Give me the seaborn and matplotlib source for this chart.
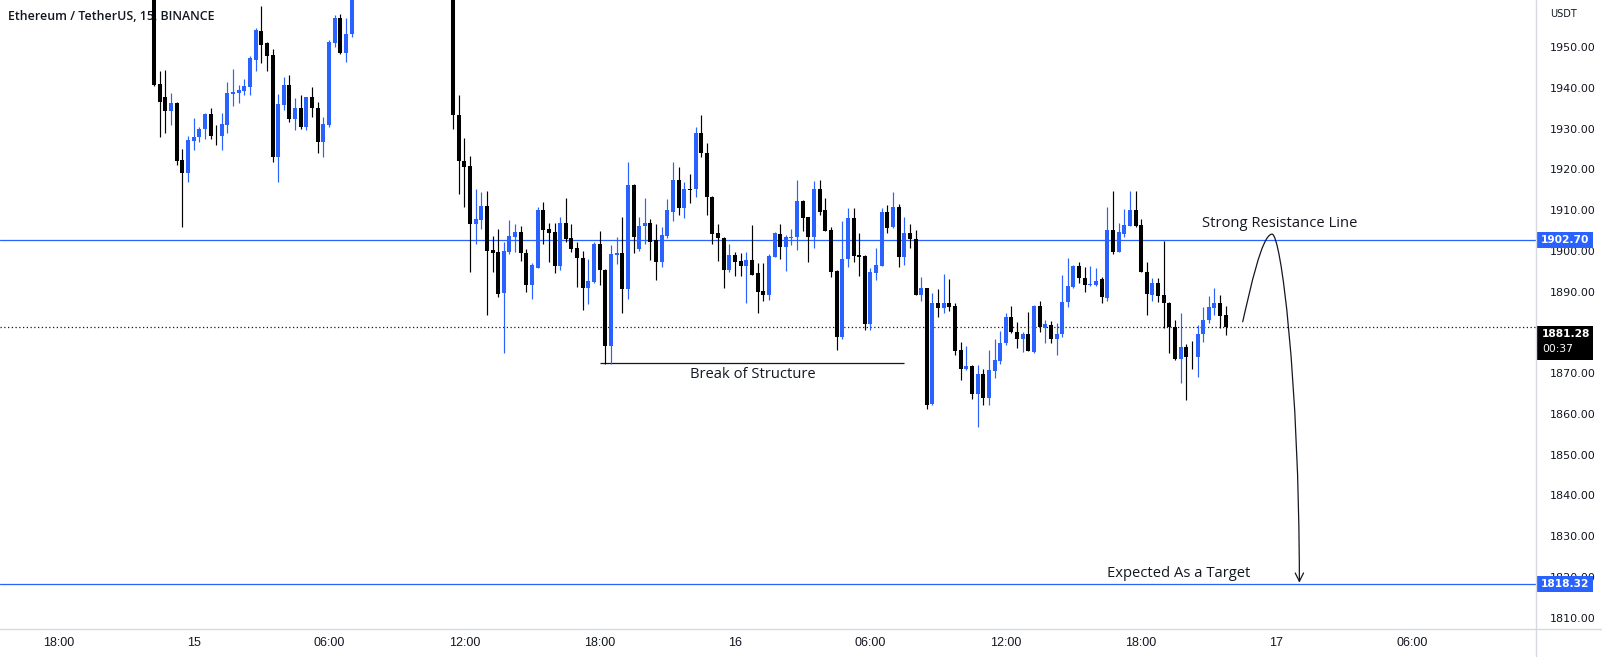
import numpy as np
import pandas as pd
import matplotlib
matplotlib.use("Agg")
import matplotlib.pyplot as plt
import matplotlib.transforms as mtransforms
from matplotlib.path import Path
from matplotlib.patches import FancyArrowPatch, Rectangle
from matplotlib.lines import Line2D
import seaborn as sns

sns.set_theme(style="white")
plt.rcParams["font.family"] = ["DejaVu Sans"]

# ---------------- data: ETH/USDT 15m candles ----------------
axis_origin = "2023-07-14 18:00"

seg1_start = "2023-07-14 22:15"
opens1 = [1963.5, 1940.9, 1937.8, 1934.4, 1936.2, 1922.3, 1919.0, 1927.0, 1927.9, 1929.8,
          1933.6, 1928.4, 1928.2, 1930.9, 1938.5, 1938.6, 1939.3, 1940.3, 1946.8, 1953.9,
          1950.9, 1948.0, 1923.1, 1935.8, 1940.7, 1932.3, 1935.0, 1930.3, 1937.7, 1935.0,
          1926.8, 1930.9, 1951.1, 1957.0, 1948.6, 1953.3]
highs1 = [1966.0, 1944.2, 1944.4, 1938.6, 1936.4, 1925.1, 1928.2, 1932.5, 1930.5, 1933.9,
          1935.0, 1930.9, 1933.7, 1941.3, 1944.5, 1940.7, 1942.1, 1947.8, 1954.6, 1960.1,
          1951.3, 1949.4, 1938.5, 1942.6, 1943.1, 1937.4, 1938.2, 1937.8, 1940.1, 1936.6,
          1932.9, 1951.7, 1957.8, 1958.1, 1957.0, 1966.0]
lows1 = [1940.5, 1928.0, 1929.0, 1930.9, 1921.1, 1905.9, 1917.0, 1924.7, 1926.8, 1927.4,
         1927.4, 1926.0, 1924.7, 1928.8, 1935.5, 1936.2, 1938.2, 1938.2, 1944.0, 1946.0,
         1944.0, 1921.9, 1917.0, 1934.5, 1931.7, 1929.6, 1930.0, 1929.6, 1932.9, 1923.9,
         1922.9, 1930.5, 1950.1, 1948.3, 1946.2, 1952.4]
closes1 = [1940.7, 1936.6, 1934.4, 1936.2, 1922.1, 1919.0, 1927.2, 1928.0, 1929.8, 1933.6,
           1928.2, 1928.3, 1931.1, 1938.6, 1939.0, 1939.5, 1940.4, 1947.2, 1954.2, 1950.5,
           1947.8, 1923.1, 1936.0, 1940.7, 1932.3, 1935.0, 1930.3, 1937.7, 1935.0, 1926.8,
           1931.1, 1951.3, 1957.0, 1948.6, 1953.3, 1964.0]

seg2_start = "2023-07-15 11:30"
opens2 = [1963.5, 1933.3, 1922.1, 1920.8, 1906.7, 1907.6, 1911.0, 1900.2, 1899.8, 1889.6,
          1899.8, 1903.5, 1904.7, 1899.5, 1891.6, 1895.9, 1909.9, 1905.3, 1904.7, 1896.3,
          1906.9, 1903.1, 1900.6, 1898.2, 1891.0, 1892.4, 1901.7, 1895.3, 1876.6, 1899.0,
          1899.5, 1890.6, 1916.1, 1900.4, 1906.0, 1906.8, 1902.7, 1897.3, 1903.6, 1909.6,
          1917.5, 1910.4, 1915.1, 1915.1, 1929.0, 1924.1, 1913.3, 1904.5, 1903.1, 1895.3,
          1899.0, 1897.6, 1896.3, 1897.8, 1894.5, 1890.2, 1889.2, 1898.6, 1904.1, 1901.0,
          1903.1, 1903.3, 1912.3, 1908.2, 1903.3, 1915.1, 1909.9, 1905.1, 1895.1, 1878.8,
          1897.9, 1908.0, 1899.0, 1898.7, 1882.1, 1894.6, 1896.3, 1909.6, 1905.8, 1910.7,
          1898.4, 1904.3, 1902.8, 1889.2, 1890.8, 1862.4, 1887.1, 1885.9, 1887.3, 1886.5,
          1875.7, 1870.9, 1871.7, 1865.0, 1869.8, 1863.8, 1870.6, 1873.1, 1877.3, 1883.7,
          1880.2, 1878.3, 1879.6, 1875.3, 1886.5, 1881.0, 1881.8, 1878.3, 1879.6, 1887.5,
          1891.2, 1896.3, 1893.3, 1891.6, 1891.6, 1893.0, 1888.4, 1905.1, 1899.8, 1904.1,
          1906.1, 1909.9, 1906.3, 1894.9, 1889.2, 1892.2, 1889.2, 1887.1, 1881.4, 1873.4,
          1876.3, 1874.0, 1873.9, 1879.6, 1883.0, 1886.1, 1887.3, 1884.3]
highs2 = [1966.0, 1938.2, 1927.6, 1923.3, 1915.1, 1914.5, 1914.8, 1903.6, 1905.3, 1902.2,
          1907.6, 1906.6, 1906.1, 1900.4, 1897.1, 1910.7, 1912.1, 1906.9, 1906.9, 1908.4,
          1912.9, 1906.6, 1902.2, 1900.0, 1897.9, 1902.2, 1904.9, 1895.5, 1901.4, 1903.3,
          1908.2, 1921.9, 1916.4, 1908.4, 1912.9, 1907.7, 1906.6, 1905.9, 1912.6, 1921.9,
          1920.5, 1917.0, 1918.8, 1930.5, 1933.3, 1926.5, 1913.5, 1906.7, 1903.3, 1901.7,
          1899.8, 1899.4, 1899.8, 1906.3, 1897.1, 1897.1, 1899.2, 1904.7, 1906.6, 1903.9,
          1905.3, 1917.4, 1912.5, 1908.4, 1917.2, 1917.5, 1912.9, 1905.9, 1895.3, 1907.4,
          1910.4, 1910.4, 1904.3, 1898.9, 1895.7, 1900.6, 1910.4, 1911.2, 1914.5, 1911.5,
          1908.4, 1906.6, 1905.0, 1893.5, 1891.0, 1889.7, 1890.6, 1894.3, 1893.0, 1887.3,
          1877.7, 1876.7, 1871.9, 1872.0, 1870.9, 1875.7, 1878.5, 1880.4, 1884.7, 1886.5,
          1882.6, 1880.2, 1885.1, 1886.6, 1887.8, 1883.0, 1882.9, 1882.4, 1894.1, 1898.2,
          1896.5, 1897.3, 1896.1, 1896.3, 1895.7, 1893.5, 1910.8, 1914.8, 1906.9, 1910.2,
          1914.8, 1914.8, 1907.7, 1897.3, 1893.3, 1893.3, 1902.5, 1887.5, 1883.0, 1884.8,
          1877.1, 1878.0, 1881.8, 1886.3, 1888.9, 1890.8, 1889.2, 1886.5]
lows2 = [1930.0, 1913.9, 1910.8, 1894.9, 1901.8, 1905.3, 1884.3, 1894.9, 1888.6, 1875.0,
         1899.2, 1899.8, 1897.6, 1890.0, 1888.1, 1895.7, 1901.7, 1897.3, 1894.6, 1895.3,
         1902.2, 1899.8, 1891.2, 1885.6, 1887.0, 1892.2, 1891.6, 1872.2, 1872.2, 1896.8,
         1884.8, 1888.1, 1899.4, 1900.0, 1901.8, 1897.8, 1892.8, 1896.1, 1903.1, 1907.2,
         1908.8, 1908.0, 1911.8, 1913.1, 1923.1, 1908.8, 1901.7, 1897.6, 1891.0, 1894.9,
         1893.8, 1893.8, 1887.3, 1894.0, 1884.8, 1887.8, 1887.9, 1898.5, 1897.9, 1895.1,
         1901.4, 1900.2, 1904.9, 1897.3, 1900.6, 1908.8, 1904.8, 1893.7, 1875.7, 1878.3,
         1896.0, 1897.3, 1893.8, 1880.6, 1880.6, 1892.8, 1896.2, 1904.5, 1905.6, 1896.1,
         1896.5, 1900.6, 1889.1, 1887.8, 1861.1, 1862.3, 1883.7, 1884.8, 1885.3, 1874.4,
         1868.3, 1870.8, 1863.6, 1856.9, 1862.2, 1862.2, 1868.7, 1872.2, 1876.9, 1879.8,
         1876.1, 1875.3, 1875.4, 1875.0, 1880.2, 1877.3, 1877.5, 1874.4, 1878.8, 1886.3,
         1891.0, 1892.0, 1890.0, 1891.4, 1891.4, 1887.1, 1887.8, 1899.2, 1899.7, 1903.5,
         1906.0, 1905.8, 1894.8, 1884.3, 1887.8, 1887.5, 1881.0, 1875.0, 1873.3, 1867.5,
         1863.4, 1870.9, 1869.1, 1877.7, 1882.4, 1884.3, 1881.2, 1879.4]
closes2 = [1933.3, 1922.1, 1920.6, 1906.7, 1907.7, 1911.0, 1900.0, 1899.5, 1889.4, 1900.0,
           1903.6, 1904.7, 1899.4, 1891.6, 1896.5, 1909.9, 1905.1, 1904.5, 1896.3, 1906.9,
           1902.8, 1900.4, 1898.2, 1891.0, 1892.7, 1901.7, 1895.3, 1876.6, 1899.2, 1899.5,
           1890.6, 1916.1, 1903.5, 1906.0, 1906.8, 1902.2, 1897.3, 1903.9, 1909.9, 1917.5,
           1910.4, 1915.1, 1914.9, 1929.0, 1923.9, 1913.1, 1904.1, 1903.1, 1895.3, 1899.0,
           1897.3, 1896.3, 1897.8, 1894.1, 1890.0, 1889.2, 1898.7, 1904.3, 1900.9, 1903.3,
           1903.5, 1912.3, 1908.0, 1903.3, 1915.1, 1909.6, 1904.9, 1894.9, 1878.9, 1897.9,
           1908.0, 1898.7, 1898.6, 1882.1, 1894.9, 1896.5, 1909.6, 1905.7, 1910.8, 1898.4,
           1904.3, 1902.8, 1889.2, 1890.8, 1862.2, 1887.1, 1885.9, 1887.3, 1886.3, 1875.5,
           1870.9, 1871.7, 1865.0, 1869.8, 1863.8, 1870.8, 1873.2, 1877.5, 1883.7, 1880.2,
           1878.3, 1879.6, 1875.5, 1886.5, 1881.4, 1882.1, 1878.3, 1879.6, 1887.5, 1891.4,
           1896.3, 1893.3, 1891.6, 1891.9, 1892.7, 1888.6, 1905.1, 1899.8, 1904.7, 1906.3,
           1909.9, 1906.1, 1894.9, 1889.4, 1892.2, 1888.9, 1887.1, 1881.4, 1873.4, 1876.3,
           1873.9, 1873.9, 1879.6, 1883.0, 1886.3, 1887.3, 1884.0, 1881.28]

resistance_level = 1902.70
target_level = 1818.32
last_price = 1881.28
countdown = "00:37"
structure_level = 1872.5
# 1880.00 sits fully behind the last-price box in the reference
price_ticks = [v for v in range(1810, 1951, 10) if v != 1880]

BLUE = "#2962FF"
BLACK = "#000000"
TEXT = "#131722"

# ---------------- build candle frame ----------------
bar = pd.Timedelta("15min")
origin = pd.Timestamp(axis_origin)
frames = []
for start, o, h, l, c in [(seg1_start, opens1, highs1, lows1, closes1),
                          (seg2_start, opens2, highs2, lows2, closes2)]:
    t = pd.date_range(start, periods=len(o), freq="15min")
    frames.append(pd.DataFrame({"time": t, "open": o, "high": h, "low": l, "close": c}))
df = pd.concat(frames, ignore_index=True)
df["x"] = (df["time"] - origin) / bar
df["dir"] = np.where(df["close"] >= df["open"], "up", "down")
df["cid"] = np.arange(len(df))

wicks = pd.concat([df[["cid", "x", "dir"]].assign(price=df["low"]),
                   df[["cid", "x", "dir"]].assign(price=df["high"])]).sort_values(["cid"], kind="stable")
bodies = pd.concat([df[["cid", "x", "dir"]].assign(price=df["open"]),
                    df[["cid", "x", "dir"]].assign(price=df["close"])]).sort_values(["cid"], kind="stable")

# ---------------- figure ----------------
W, H = 1602, 657
fig = plt.figure(figsize=(W / 100, H / 100), dpi=100)
fig.patch.set_facecolor("white")
ax_right_px, ax_bottom_px = 1536, 628.5
ax = fig.add_axes([0, (H - ax_bottom_px) / H, ax_right_px / W, ax_bottom_px / H])
ax.set_facecolor("white")

pal = {"up": BLUE, "down": BLACK}
sns.lineplot(data=wicks, x="x", y="price", units="cid", estimator=None, hue="dir",
             palette=pal, linewidth=0.85, legend=False, sort=False, ax=ax,
             solid_capstyle="butt", zorder=3)
sns.lineplot(data=bodies, x="x", y="price", units="cid", estimator=None, hue="dir",
             palette=pal, linewidth=2.9, legend=False, sort=False, ax=ax,
             solid_capstyle="butt", zorder=3)

ax.set_xlim(-10.32, 262.0)
ax.set_ylim(1807.37, 1961.53)
ax.set_xlabel("")
ax.set_ylabel("")
for s in ax.spines.values():
    s.set_visible(False)
ax.grid(False)

# y ticks on right
ax.yaxis.tick_right()
ax.set_yticks(price_ticks)
ax.set_yticklabels([f"{v:.2f}" for v in price_ticks])
ax.tick_params(axis="y", length=0, pad=10, labelsize=8, labelcolor=TEXT)

# x ticks
tick_times = pd.date_range(origin, periods=11, freq="6h")
ax.set_xticks([(t - origin) / bar for t in tick_times])
ax.set_xticklabels([str(t.day) if t.hour == 0 else t.strftime("%H:%M") for t in tick_times])
ax.tick_params(axis="x", length=0, pad=6, labelsize=8, labelcolor=TEXT)
for lbl in ax.get_xticklabels():
    lbl.set_family(["Liberation Sans Narrow", "Liberation Sans", "DejaVu Sans"])
    lbl.set_fontsize(9)

# horizontal levels
ax.axhline(resistance_level, color=BLUE, lw=0.9, zorder=2)
ax.axhline(target_level, color=BLUE, lw=0.9, zorder=2)
ax.axhline(last_price, color=TEXT, lw=0.9, ls=(0, (1, 2)), zorder=2)
ax.hlines(structure_level, 96, 150, color=TEXT, lw=0.9, zorder=2)

# annotations
ann_font = dict(family=["Open Sans", "DejaVu Sans"], fontsize=10.6, color=TEXT)
ax.text(216.6, 1906.6, "Strong Resistance Line", ha="center", va="center", **ann_font)
ax.text(123.2, 1869.7, "Break of Structure", ha="center", va="center", **ann_font)
ax.text(198.7, 1820.9, "Expected As a Target", ha="center", va="center", **ann_font)

# projected path arrow
verts = [(210.0, 1882.6), (211.3, 1890.4), (213.4, 1904.1), (215.2, 1904.1),
         (216.8, 1904.1), (220.0, 1868.3), (220.05, 1818.6)]
codes = [Path.MOVETO, Path.CURVE4, Path.CURVE4, Path.CURVE4, Path.CURVE4, Path.CURVE4, Path.CURVE4]
arrow = FancyArrowPatch(path=Path(verts, codes), arrowstyle="->,head_length=0.5,head_width=0.25",
                        mutation_scale=12, color=TEXT, lw=0.9, zorder=4)
ax.add_patch(arrow)

# title
ax.text(8 / ax_right_px, 1 - 16 / ax_bottom_px, "Ethereum / TetherUS, 15, BINANCE",
        transform=ax.transAxes, ha="left", va="center", fontsize=8.9,
        family=["Open Sans", "DejaVu Sans"], fontweight="semibold", color=TEXT, zorder=1)

# price-scale boxes
trans = mtransforms.blended_transform_factory(ax.transAxes, ax.transData)
px_per_unit = ax_bottom_px / (1961.53 - 1807.37)
box_w = 56 / ax_right_px
for lvl, lab in [(resistance_level, f"{resistance_level:.2f}"), (target_level, f"{target_level:.2f}")]:
    hh = 16 / px_per_unit
    ax.add_patch(Rectangle((1.0 + 1 / ax_right_px, lvl - hh / 2), box_w, hh, transform=trans,
                           facecolor=BLUE, edgecolor="none", clip_on=False, zorder=10))
    ax.text(1.0 + 1 / ax_right_px + box_w / 2, lvl, lab, transform=trans, ha="center", va="center",
            color="white", fontsize=7.7, fontweight="bold", clip_on=False, zorder=11)

top = last_price + 1 / px_per_unit
hh = 34 / px_per_unit
ax.add_patch(Rectangle((1.0 + 1 / ax_right_px, top - hh), box_w, hh, transform=trans,
                       facecolor=BLACK, edgecolor="none", clip_on=False, zorder=10))
ax.text(1.0 + 6 / ax_right_px, top - 8 / px_per_unit, f"{last_price:.2f}", transform=trans,
        ha="left", va="center", color="white", fontsize=7.7, fontweight="bold", clip_on=False, zorder=11)
ax.text(1.0 + 6 / ax_right_px, top - 23 / px_per_unit, countdown, transform=trans,
        ha="left", va="center", color="white", fontsize=7.7, clip_on=False, zorder=11)

# currency label
fig.text(1550 / W, 1 - 14 / H, "USDT", ha="left", va="center", fontsize=7, color=TEXT)

# scale separators
fig.add_artist(Line2D([ax_right_px / W, ax_right_px / W], [0, 1], transform=fig.transFigure,
                      color="#d6d9e0", lw=1))
fig.add_artist(Line2D([0, 1], [(H - ax_bottom_px) / H] * 2, transform=fig.transFigure,
                      color="#d6d9e0", lw=1))

fig.savefig("out.png", dpi=100, facecolor="white")
